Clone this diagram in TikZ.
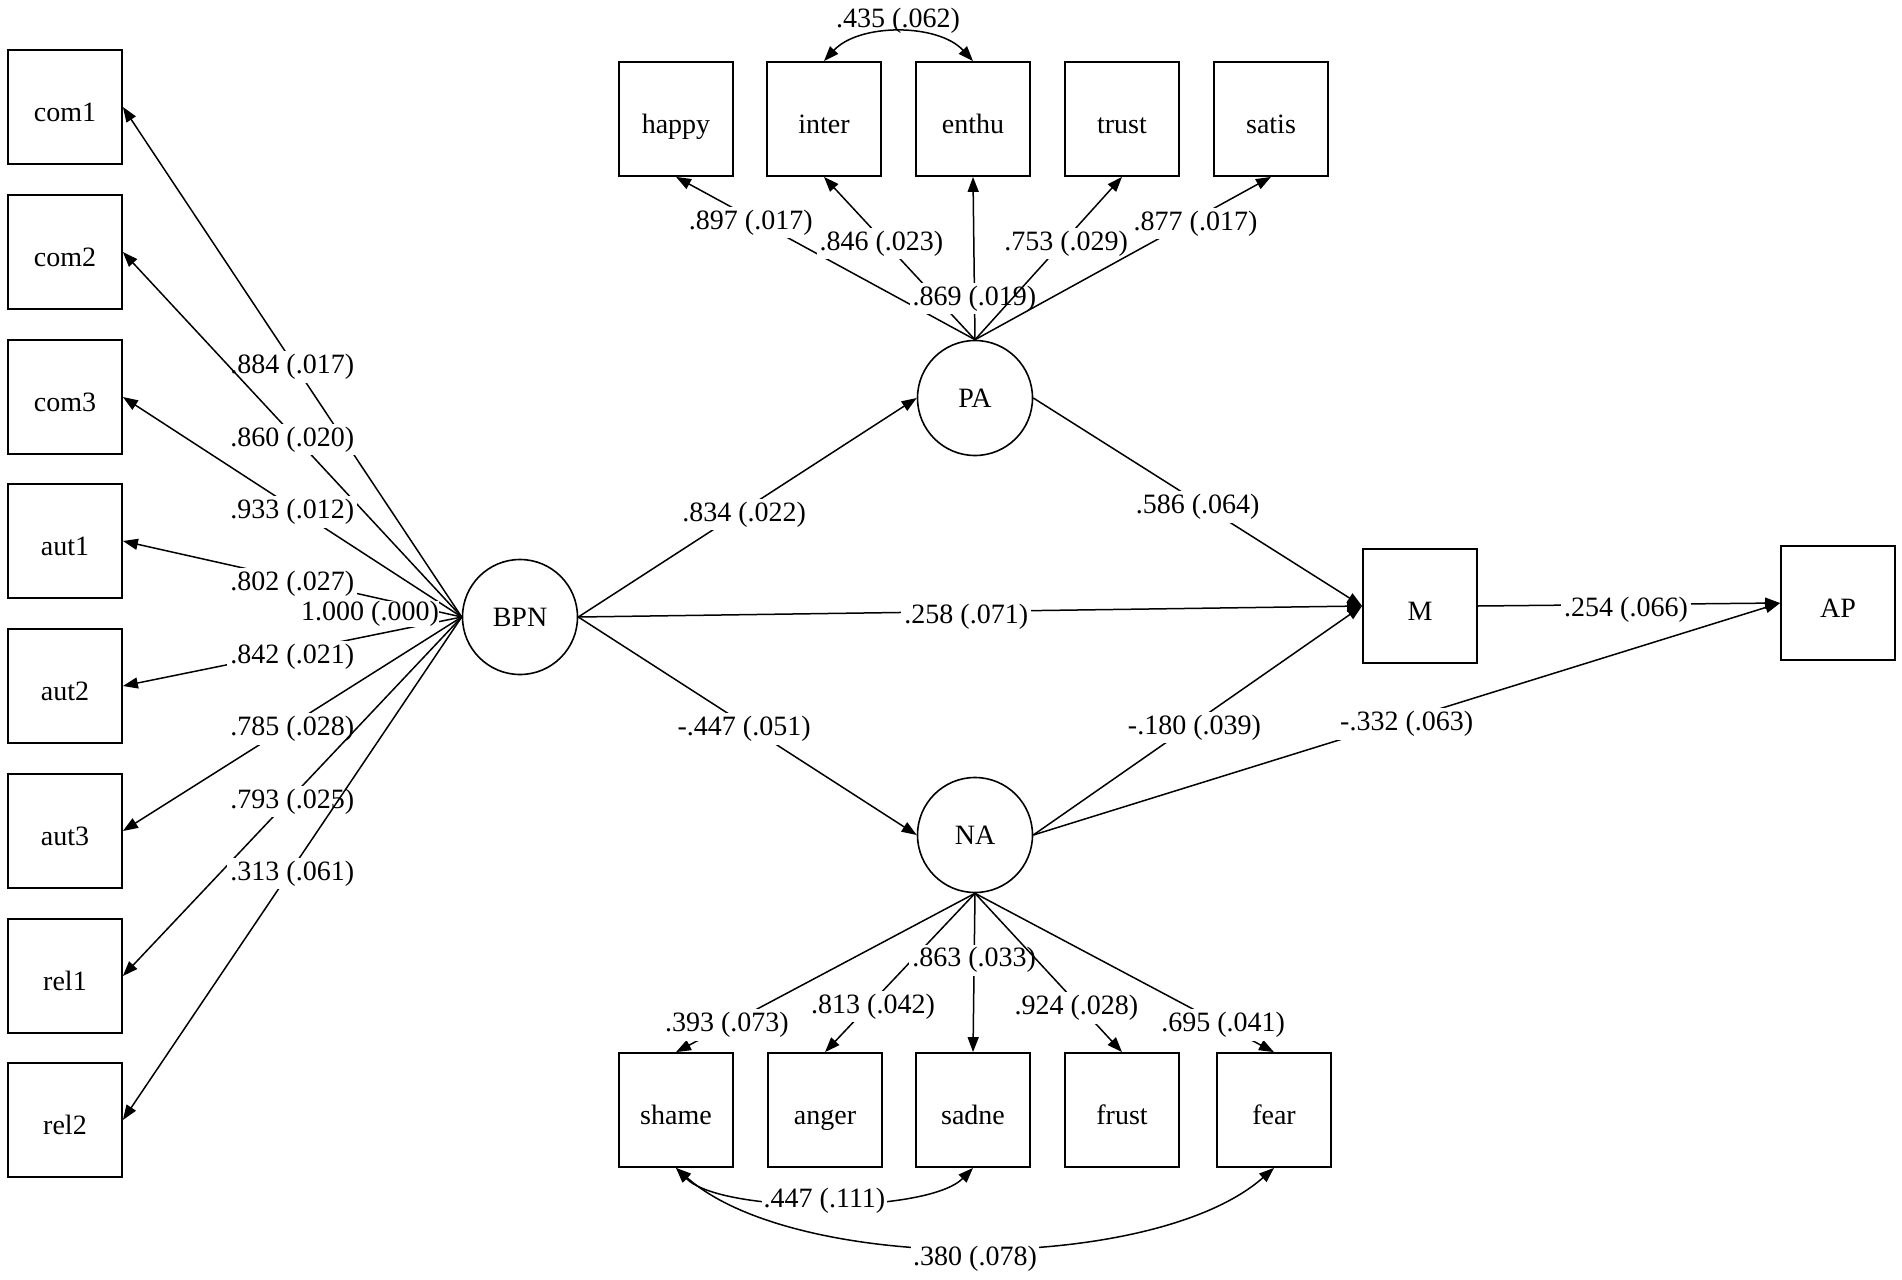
\documentclass[tikz,border=0pt]{standalone}
\usepackage{fontspec}
\setmainfont{Liberation Serif}
\usetikzlibrary{arrows.meta}
\begin{document}
\begin{tikzpicture}[x=1pt,y=-1pt,
  every node/.style={font=\fontsize{28}{32}\selectfont},
  box/.style={draw, line width=1.8pt, minimum width=114pt, minimum height=114pt, inner sep=0pt, text height=29pt, text depth=0pt},
  lat/.style={draw, circle, line width=1.6pt, minimum size=115pt, inner sep=0pt},
  reg/.style={line width=1.5pt, -{Triangle[length=15pt,width=11pt]}},
  cov/.style={line width=1.5pt, {Triangle[length=15pt,width=11pt]}-{Triangle[length=15pt,width=11pt]}},
  lbl/.style={fill=white, inner sep=3pt, yshift=-5pt},
  clbl/.style={fill=white, inner sep=2pt}
]
\path[use as bounding box, fill=white] (0,0) rectangle (1902,1279);

% left indicators
\node[box] (com1) at (65,107) {com1};
\node[box] (com2) at (65,252) {com2};
\node[box] (com3) at (65,397) {com3};
\node[box] (aut1) at (65,541) {aut1};
\node[box] (aut2) at (65,686) {aut2};
\node[box] (aut3) at (65,831) {aut3};
\node[box] (rel1) at (65,976) {rel1};
\node[box] (rel2) at (65,1120) {rel2};

% latent variables
\node[lat] (BPN) at (520,617) {BPN};
\node[lat] (PA) at (975,398) {PA};
\node[lat] (NA) at (975,835) {NA};

% top indicators
\node[box] (happy) at (676,119) {happy};
\node[box] (inter) at (824,119) {inter};
\node[box] (enthu) at (973,119) {enthu};
\node[box] (trust) at (1122,119) {trust};
\node[box] (satis) at (1271,119) {satis};

% bottom indicators
\node[box] (shame) at (676,1110) {shame};
\node[box] (anger) at (825,1110) {anger};
\node[box] (sadne) at (973,1110) {sadne};
\node[box] (frust) at (1122,1110) {frust};
\node[box] (fear) at (1274,1110) {fear};

% outcomes
\node[box] (M) at (1420,606) {M};
\node[box] (AP) at (1838,603) {AP};

% BPN loadings
\draw[reg] (BPN.west) -- node[lbl,pos=.5] {.884 (.017)} (com1.east);
\draw[reg] (BPN.west) -- node[lbl,pos=.5] {.860 (.020)} (com2.east);
\draw[reg] (BPN.west) -- node[lbl,pos=.5] {.933 (.012)} (com3.east);
\draw[reg] (BPN.west) -- node[lbl,pos=.5] {.802 (.027)} (aut1.east);
\draw[reg] (BPN.west) -- node[lbl,pos=.5] {.842 (.021)} (aut2.east);
\draw[reg] (BPN.west) -- node[lbl,pos=.5] {.785 (.028)} (aut3.east);
\draw[reg] (BPN.west) -- node[lbl,pos=.5] {.793 (.025)} (rel1.east);
\draw[reg] (BPN.west) -- node[lbl,pos=.5] {.313 (.061)} (rel2.east);
\node[clbl, inner sep=0pt] (bpnvar) at (370,614) {1.000 (.000)};

% PA loadings
\draw[reg] (PA.north) -- node[lbl,pos=.75] {.897 (.017)} (happy.south);
\draw[reg] (PA.north) -- node[lbl,pos=.62] {.846 (.023)} (inter.south);
\draw[reg] (PA.north) -- node[lbl,pos=.285] {.869 (.019)} (enthu.south);
\draw[reg] (PA.north) -- node[lbl,pos=.62] {.753 (.029)} (trust.south);
\draw[reg] (PA.north) -- node[lbl,pos=.745] {.877 (.017)} (satis.south);

% NA loadings
\draw[reg] (NA.south) -- node[clbl,inner sep=3pt,pos=.83] {.393 (.073)} (shame.north);
\draw[reg] (NA.south) -- node[lbl,pos=.68] {.813 (.042)} (anger.north);
\draw[reg] (NA.south) -- node[lbl,pos=.39] {.863 (.033)} (sadne.north);
\draw[reg] (NA.south) -- node[lbl,pos=.69] {.924 (.028)} (frust.north);
\draw[reg] (NA.south) -- node[clbl,inner sep=3pt,pos=.83] {.695 (.041)} (fear.north);

% structural paths
\draw[reg] (BPN.east) -- node[lbl,pos=.49] {.834 (.022)} (PA.west);
\draw[reg] (BPN.east) -- node[lbl,pos=.495] {.258 (.071)} (M.west);
\draw[reg] (BPN.east) -- node[lbl,pos=.49] {-.447 (.051)} (NA.west);
\draw[reg] (PA.east) -- node[lbl,pos=.5] {.586 (.064)} (M.west);
\draw[reg] (NA.east) -- node[lbl,pos=.49] {-.180 (.039)} (M.west);
\draw[reg] (NA.east) -- node[lbl,pos=.5] {-.332 (.063)} (AP.west);
\draw[reg] (M.east) -- node[lbl,pos=.49] {.254 (.066)} (AP.west);

% residual covariances
\draw[cov] (inter.north) .. controls +(35,-38) and +(-35,-38) .. (enthu.north);
\node (c435) at (898,21) {.435 (.062)};
\draw[cov] (shame.south) .. controls +(45,46) and +(-45,46) .. node[clbl,pos=.5,yshift=2pt] {.447 (.111)} (sadne.south);
\draw[cov] (shame.south) .. controls +(120,106) and +(-120,106) .. node[clbl,pos=.5,yshift=-11pt] {.380 (.078)} (fear.south);
\end{tikzpicture}
\end{document}
